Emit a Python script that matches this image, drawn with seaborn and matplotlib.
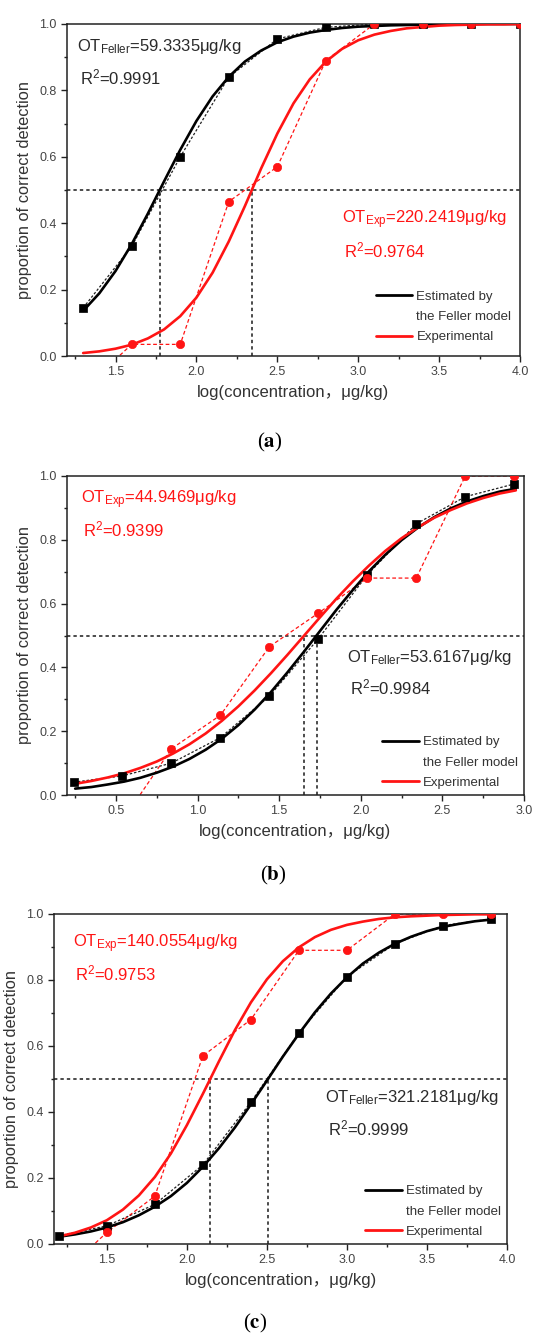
import numpy as np
import matplotlib.pyplot as plt
from matplotlib.lines import Line2D
import seaborn as sns

# ---- panel (a) ----
a_obs_x = [1.3, 1.6, 1.9, 2.2, 2.5, 2.8, 3.1, 3.4, 3.7, 4.0]
a_feller_obs = [0.145, 0.33, 0.60, 0.84, 0.955, 0.99, 1.0, 1.0, 1.0, 1.0]
a_exp_obs = [-0.10, 0.035, 0.035, 0.465, 0.57, 0.89, 1.0, 1.0, 1.0, 1.0]
a_fit_x = [1.3, 1.4, 1.5, 1.6, 1.7, 1.8, 1.9, 2.0, 2.1, 2.2, 2.3, 2.4, 2.5, 2.6,
           2.7, 2.8, 2.9, 3.0, 3.1, 3.2, 3.3, 3.4, 3.5, 3.6, 3.7, 3.8, 3.9, 4.0]
a_feller_fit = [0.136, 0.189, 0.256, 0.337, 0.429, 0.526, 0.621, 0.708, 0.782, 0.841,
                0.887, 0.920, 0.945, 0.962, 0.974, 0.982, 0.988, 0.992, 0.994, 0.996,
                0.997, 0.998, 0.999, 0.999, 1.0, 1.0, 1.0, 1.0]
a_exp_fit = [0.009, 0.014, 0.022, 0.034, 0.053, 0.080, 0.120, 0.176, 0.251, 0.345,
             0.452, 0.565, 0.670, 0.761, 0.833, 0.887, 0.925, 0.951, 0.968, 0.979,
             0.987, 0.991, 0.995, 0.997, 0.998, 0.999, 0.999, 1.0]

# ---- panel (b) ----
b_obs_x = [0.24, 0.54, 0.84, 1.14, 1.44, 1.74, 2.04, 2.34, 2.64, 2.94]
b_feller_obs = [0.04, 0.06, 0.10, 0.18, 0.31, 0.49, 0.69, 0.85, 0.935, 0.975]
b_exp_x = [0.54, 0.84, 1.14, 1.44, 1.74, 2.04, 2.34, 2.64, 2.94]
b_exp_obs = [-0.08, 0.145, 0.25, 0.465, 0.57, 0.68, 0.68, 1.0, 1.0]
b_fit_x = [0.25, 0.35, 0.45, 0.55, 0.65, 0.75, 0.85, 0.95, 1.05, 1.15, 1.25, 1.35, 1.45, 1.55,
           1.65, 1.75, 1.85, 1.95, 2.05, 2.15, 2.25, 2.35, 2.45, 2.55, 2.65, 2.75, 2.85, 2.95]
b_feller_fit = [0.020, 0.025, 0.033, 0.042, 0.054, 0.070, 0.089, 0.113, 0.142, 0.177,
                0.219, 0.268, 0.323, 0.384, 0.448, 0.514, 0.580, 0.642, 0.701, 0.753,
                0.799, 0.838, 0.871, 0.898, 0.920, 0.937, 0.951, 0.960]
b_exp_fit = [0.035, 0.044, 0.055, 0.068, 0.085, 0.105, 0.130, 0.159, 0.193, 0.233,
             0.278, 0.328, 0.382, 0.439, 0.498, 0.557, 0.615, 0.669, 0.719, 0.765,
             0.805, 0.839, 0.869, 0.893, 0.914, 0.931, 0.945, 0.955]

# ---- panel (c) ----
c_obs_x = [1.2, 1.5, 1.8, 2.1, 2.4, 2.7, 3.0, 3.3, 3.6, 3.9]
c_feller_obs = [0.025, 0.055, 0.12, 0.24, 0.43, 0.64, 0.81, 0.91, 0.965, 0.985]
c_exp_obs = [-0.10, 0.035, 0.145, 0.57, 0.68, 0.89, 0.89, 1.0, 1.0, 1.0]
c_fit_x = [1.2, 1.3, 1.4, 1.5, 1.6, 1.7, 1.8, 1.9, 2.0, 2.1, 2.2, 2.3, 2.4, 2.5,
           2.6, 2.7, 2.8, 2.9, 3.0, 3.1, 3.2, 3.3, 3.4, 3.5, 3.6, 3.7, 3.8, 3.9]
c_feller_fit = [0.022, 0.029, 0.038, 0.050, 0.066, 0.087, 0.113, 0.145, 0.185, 0.234,
                0.290, 0.353, 0.423, 0.495, 0.568, 0.637, 0.702, 0.759, 0.808, 0.850,
                0.883, 0.910, 0.931, 0.948, 0.961, 0.970, 0.978, 0.983]
c_exp_fit = [0.023, 0.034, 0.050, 0.072, 0.104, 0.147, 0.203, 0.274, 0.360, 0.455,
             0.553, 0.648, 0.732, 0.802, 0.857, 0.899, 0.930, 0.952, 0.967, 0.977,
             0.985, 0.990, 0.993, 0.995, 0.997, 0.998, 0.999, 0.999]

# thresholds (ug/kg) and R2 values printed on the panels
ot_feller = [59.3335, 53.6167, 321.2181]
ot_exp = [220.2419, 44.9469, 140.0554]
r2_feller = ['0.9991', '0.9984', '0.9999']
r2_exp = ['0.9764', '0.9399', '0.9753']
panel_names = ['a', 'b', 'c']

RED = '#ff1414'
TXT = '#2a2a2a'


def draw_panel(ax, fit_x, feller_fit, exp_fit, obs_x, feller_obs, exp_x, exp_obs,
               i, xlim, txt_pos, leg_anchor):
    # horizontal/vertical threshold guides
    ax.axhline(0.5, color='k', lw=1.1, ls=(0, (2.2, 2.0)), zorder=1)
    ax.vlines([np.log10(ot_feller[i]), np.log10(ot_exp[i])], 0, 0.5,
              color='k', lw=1.1, linestyles=[(0, (2.2, 2.0))], zorder=1)

    # observed points joined by thin dashed lines
    sns.lineplot(x=obs_x, y=feller_obs, ax=ax, color='#222222', lw=0.9,
                 linestyle=(0, (2.0, 1.5)), estimator=None, errorbar=None, zorder=2)
    sns.lineplot(x=exp_x, y=exp_obs, ax=ax, color=RED, lw=0.9,
                 linestyle=(0, (3.0, 2.0)), estimator=None, errorbar=None, zorder=2)

    # fitted curves
    sns.lineplot(x=fit_x, y=feller_fit, ax=ax, color='black', lw=1.9,
                 estimator=None, errorbar=None, zorder=3)
    sns.lineplot(x=fit_x, y=exp_fit, ax=ax, color=RED, lw=1.9,
                 estimator=None, errorbar=None, zorder=3)

    sns.scatterplot(x=obs_x, y=feller_obs, ax=ax, marker='s', s=34, color='black',
                    edgecolor='black', linewidth=0.5, zorder=4)
    sns.scatterplot(x=exp_x, y=exp_obs, ax=ax, marker='o', s=36, color=RED,
                    edgecolor=RED, linewidth=0.5, zorder=4)

    ax.set_xlim(*xlim)
    ax.set_ylim(0, 1.0)
    ax.set_xticks(np.arange(np.ceil(xlim[0] * 2) / 2, xlim[1] + 0.01, 0.5))
    ax.set_xticks(np.arange(1.25 if xlim[0] > 1 else 0.25, xlim[1], 0.5), minor=True)
    ax.set_yticks([0.0, 0.2, 0.4, 0.6, 0.8, 1.0])
    ax.set_yticks([0.1, 0.3, 0.5, 0.7, 0.9], minor=True)
    ax.xaxis.set_major_formatter(plt.FormatStrFormatter('%.1f'))
    ax.yaxis.set_major_formatter(plt.FormatStrFormatter('%.1f'))
    ax.tick_params(which='both', direction='out', colors='#222222', labelcolor='#444444',
                   labelsize=9, width=1.0, top=False, right=False)
    ax.tick_params(which='major', length=4)
    ax.tick_params(which='minor', length=2.5)
    for sp in ax.spines.values():
        sp.set_visible(True)
        sp.set_color('#222222')
        sp.set_linewidth(1.1)

    ax.set_xlabel('log(concentration，μg/kg)', fontsize=12, color='#333333', labelpad=5)
    ax.set_ylabel('proportion of correct detection', fontsize=11.8, color='#333333', labelpad=5)

    # annotations
    (fx, fy), (ex, ey) = txt_pos
    ax.text(fx, fy, r'OT$_{\mathrm{Feller}}$=%.4fμg/kg' % ot_feller[i], transform=ax.transAxes,
            fontsize=12, color=TXT, va='center', ha='left')
    ax.text(fx + 0.006, fy - 0.094, r'R$^{2}$=' + r2_feller[i], transform=ax.transAxes,
            fontsize=12, color=TXT, va='center', ha='left')
    ax.text(ex, ey, r'OT$_{\mathrm{Exp}}$=%.4fμg/kg' % ot_exp[i], transform=ax.transAxes,
            fontsize=12, color=RED, va='center', ha='left')
    ax.text(ex + 0.004, ey - 0.092, r'R$^{2}$=' + r2_exp[i], transform=ax.transAxes,
            fontsize=12, color=RED, va='center', ha='left')

    handles = [Line2D([], [], color='black', lw=2.0),
               Line2D([], [], color='none', lw=0),
               Line2D([], [], color=RED, lw=2.0)]
    labels = ['Estimated by', 'the Feller model', 'Experimental']
    ax.legend(handles, labels, loc='lower right', bbox_to_anchor=leg_anchor, frameon=False,
              fontsize=9.5, handlelength=2.8, handletextpad=0.3, labelspacing=0.62,
              borderaxespad=0.25, labelcolor='#333333')


def main():
    sns.set_theme(style='ticks')
    plt.rcParams['font.family'] = ['Liberation Sans', 'Noto Sans CJK SC', 'DejaVu Sans']
    plt.rcParams['mathtext.fontset'] = 'custom'
    plt.rcParams['mathtext.rm'] = 'Liberation Sans'
    plt.rcParams['mathtext.it'] = 'Liberation Sans:italic'
    plt.rcParams['mathtext.bf'] = 'Liberation Sans:bold'

    fig = plt.figure(figsize=(5.34, 13.36), dpi=100)
    W, H = 534.0, 1336.0
    # axes boxes in pixels: left, top, right, bottom
    boxes = [(67, 24, 520, 356), (67, 476, 524, 795), (54, 914, 507, 1244)]
    axs = []
    for (l, t, r, b) in boxes:
        axs.append(fig.add_axes([l / W, 1 - b / H, (r - l) / W, (b - t) / H]))

    draw_panel(axs[0], a_fit_x, a_feller_fit, a_exp_fit, a_obs_x, a_feller_obs,
               a_obs_x, a_exp_obs, 0, (1.2, 4.0),
               ((0.023, 0.932), (0.607, 0.410)), (1.0, 0.012))
    draw_panel(axs[1], b_fit_x, b_feller_fit, b_exp_fit, b_obs_x, b_feller_obs,
               b_exp_x, b_exp_obs, 1, (0.2, 3.0),
               ((0.613, 0.432), (0.030, 0.925)), (1.006, -0.008))
    draw_panel(axs[2], c_fit_x, c_feller_fit, c_exp_fit, c_obs_x, c_feller_obs,
               c_obs_x, c_exp_obs, 2, (1.17, 4.0),
               ((0.598, 0.444), (0.043, 0.911)), (1.006, -0.008))

    # panel letters
    for name, (x, y) in zip(panel_names, [(270, 442), (273, 875), (255, 1323)]):
        fig.text(x / W, 1 - y / H, r'($\mathbf{%s}$)' % name, ha='center', va='center',
                 fontsize=15, family='Liberation Serif', math_fontfamily='stix', color='black')

    fig.savefig('out.png', dpi=100)
    plt.close(fig)


if __name__ == '__main__':
    main()
